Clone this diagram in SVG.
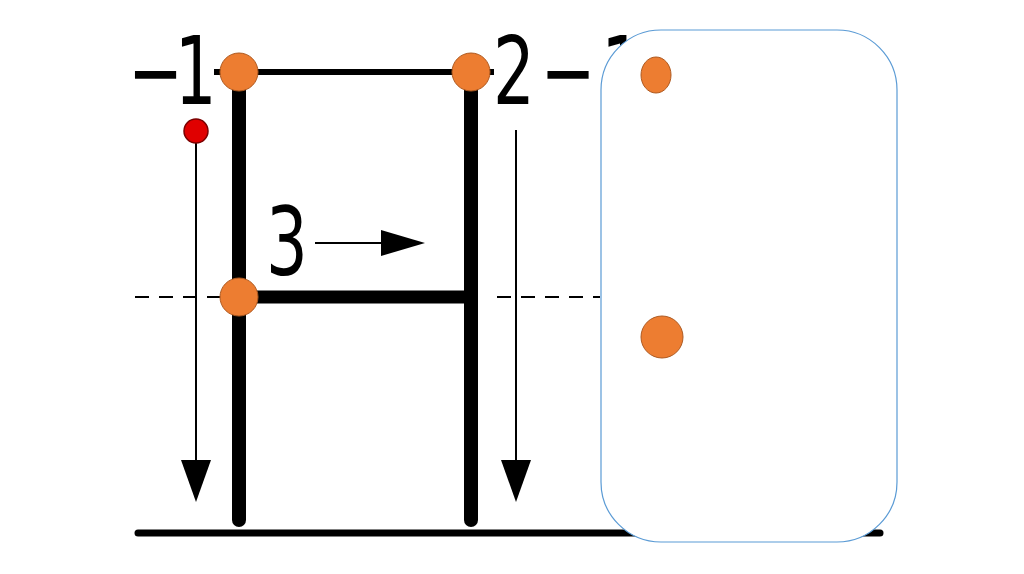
<svg xmlns="http://www.w3.org/2000/svg" width="1024" height="574" viewBox="0 0 1024 574">
<defs>
<style>
.num{font-family:"DejaVu Sans","Liberation Sans",sans-serif;font-size:94px;fill:#000}
.dot{fill:#ED7D31;stroke:#AE5A21;stroke-width:1}
.thick{stroke:#000;stroke-width:14;stroke-linecap:round;fill:none}
</style>
</defs>
<rect width="1024" height="574" fill="#fff"/>
<g id="guides">
<line x1="214" y1="72" x2="494" y2="72" stroke="#000" stroke-width="6"/>
<line x1="135" y1="297" x2="230" y2="297" stroke="#000" stroke-width="2" stroke-dasharray="14,10"/>
<line x1="497" y1="297" x2="600" y2="297" stroke="#000" stroke-width="2" stroke-dasharray="14,10"/>
<line x1="138" y1="533" x2="880" y2="533" stroke="#000" stroke-width="7" stroke-linecap="round"/>
</g>
<g id="letter">
<line class="thick" x1="239" y1="72" x2="239" y2="520"/>
<line class="thick" x1="471" y1="72" x2="471" y2="520"/>
<line x1="239" y1="297" x2="471" y2="297" stroke="#000" stroke-width="13"/>
</g>
<g id="labels">
<text class="num" transform="translate(128,104) scale(0.7,1)" letter-spacing="-12">−1</text>
<text class="num" transform="translate(493,104) scale(0.7,1)" letter-spacing="8">2−1</text>
<text class="num" transform="translate(287,275) scale(0.7,1)" text-anchor="middle">3</text>
</g>
<g id="connectors">
<line x1="196" y1="140" x2="196" y2="461" stroke="#000" stroke-width="2"/>
<path d="M181,460 L211,460 L196,502 Z" fill="#000"/>
<line x1="516" y1="130" x2="516" y2="461" stroke="#000" stroke-width="2"/>
<path d="M501,460 L531,460 L516,502 Z" fill="#000"/>
<line x1="315" y1="243" x2="382" y2="243" stroke="#000" stroke-width="2"/>
<path d="M381,230 L425,243 L381,256 Z" fill="#000"/>
</g>
<g id="start">
<circle cx="196" cy="131" r="12" fill="#E00000" stroke="#7A0000" stroke-width="1.5"/>
</g>
<g id="points">
<circle class="dot" cx="239" cy="72" r="19"/>
<circle class="dot" cx="471" cy="72" r="19"/>
<circle class="dot" cx="239" cy="297" r="19"/>
</g>
<g id="panel">
<rect x="601" y="30" width="296" height="512" rx="60" ry="60" fill="#fff" stroke="#5B9BD5" stroke-width="1.2"/>
<ellipse class="dot" cx="656" cy="75" rx="15" ry="18"/>
<circle class="dot" cx="662" cy="337" r="21"/>
</g>
</svg>
